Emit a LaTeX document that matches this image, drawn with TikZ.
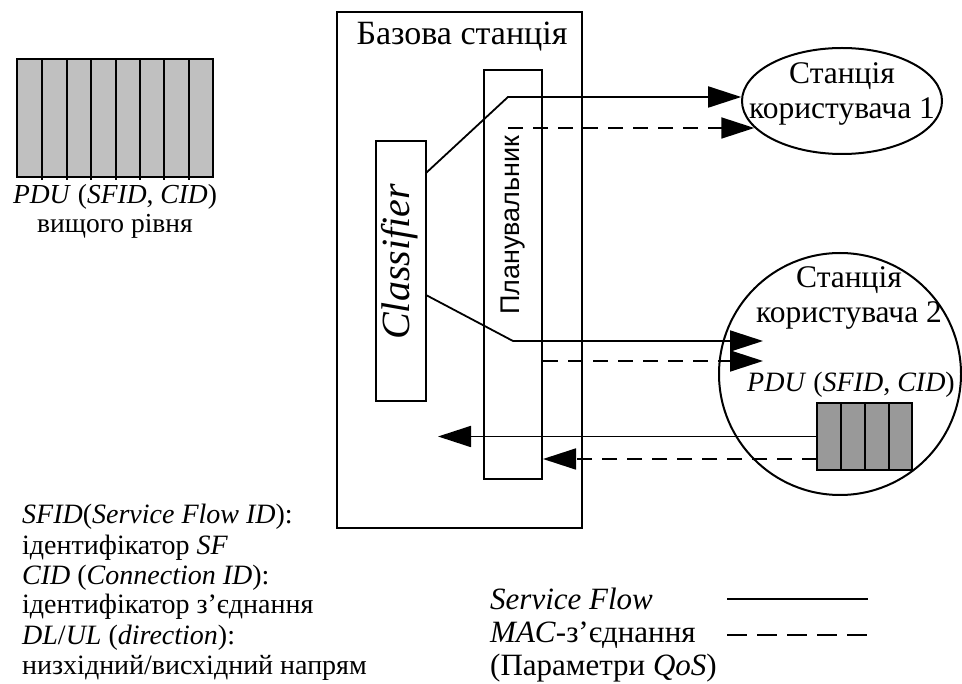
\documentclass[tikz,border=0pt]{standalone}
\usepackage{fontspec}
\setmainfont{Liberation Serif}
\setsansfont{Liberation Sans}
\usetikzlibrary{arrows.meta,shapes.geometric}
\definecolor{pdugray}{HTML}{C0C0C0}
\definecolor{queuegray}{HTML}{999999}
\tikzset{
    box/.style={draw, line width=2pt, inner sep=0pt},
    flow/.style={line width=1.8pt},
    macconn/.style={line width=1.8pt, dash pattern=on 15pt off 10pt},
    tip/.style={-{Triangle[length=33pt,width=21pt]}},
    txt/.style={font=\fontsize{28}{30}\selectfont, inner sep=0pt},
    big/.style={font=\fontsize{31.5}{35}\selectfont, inner sep=0pt},
}
\begin{document}
\begin{tikzpicture}[x=1pt,y=-1pt]
    \useasboundingbox (0,0) rectangle (962,684);

    \filldraw[fill=pdugray, line width=2pt] (17,59) rectangle (213,177);
    \draw[line width=2pt] (42,59) -- (42,180) (67,59) -- (67,180) (91,59) -- (91,180) (116,59) -- (116,180)
        (140,59) -- (140,180) (164,59) -- (164,180) (189,59) -- (189,180);
    \node[txt, font=\fontsize{27.5}{30}\selectfont] (pdu) at (115,197) {\textit{PDU} (\textit{SFID}, \textit{CID})};
    \node[txt, font=\fontsize{27.5}{30}\selectfont] (upper) at (115,226) {вищого рівня};

    \node[box, minimum width=245, minimum height=516] (bs) at (459.5,270) {};
    \node[big, font=\fontsize{34}{36}\selectfont] (bstitle) at (462,37) {Базова станція};
    \node[box, minimum width=50, minimum height=260] (cls) at (401,271) {};
    \node[rotate=90, inner sep=0pt, font=\fontsize{40}{44}\selectfont\itshape] (clstext) at (400,262) {Classifier};
    \node[box, minimum width=58, minimum height=409] (sch) at (513,274.5) {};
    \node[rotate=90, inner sep=0pt, font=\fontsize{27}{30}\selectfont\sffamily] (schtext) at (513,225) {Планувальник};

    \node[box, ellipse, minimum width=200, minimum height=106] (ue1) at (842,101) {};
    \node[big, align=center] (ue1text) at (842,94) {Станція\\користувача 1};
    \node[box, circle, minimum size=242] (ue2) at (840,374) {};
    \node[big, align=center] (ue2text) at (849,298) {Станція\\користувача 2};
    \node[txt] (pdu2) at (851,385) {\textit{PDU} (\textit{SFID}, \textit{CID})};

    \node[box, fill=queuegray, minimum width=95, minimum height=67] (q) at (864.5,436.5) {};
    \draw[line width=2pt] (841,403) -- (841,470) (865,403) -- (865,470) (889,403) -- (889,470);

    \coordinate (c1) at (426,173);
    \coordinate (b1) at (508,97);
    \coordinate (d1) at (508,128);
    \coordinate (c2) at (426,295);
    \coordinate (b2) at (513,341);
    \coordinate (e2) at (763,341);
    \coordinate (f2) at (763,361);
    \coordinate (ret) at (438,436.5);
    \coordinate (d3) at (817,459);

    \draw[flow, tip] (c1) -- (b1) -- (b1 -| ue1.178);
    \draw[macconn, tip] (d1) -- (d1 -| ue1.197);
    \draw[flow, tip] (c2) -- (b2) -- (e2);
    \draw[macconn, tip] (sch.east |- f2) -- (f2);
    \draw[flow, tip] (q.west) -- (ret);
    \draw[macconn, tip] (d3) -- (d3 -| sch.east);

    \node[txt, anchor=west] (l1) at (22,517) {\textit{SFID}(\textit{Service Flow ID}):};
    \node[txt, anchor=west] (l2) at (22,548) {ідентифікатор \textit{SF}};
    \node[txt, anchor=west] (l3) at (22,578) {\textit{CID} (\textit{Connection ID}):};
    \node[txt, anchor=west] (l4) at (22,607) {ідентифікатор з’єднання};
    \node[txt, anchor=west] (l5) at (22,638) {\textit{DL}/\textit{UL} (\textit{direction}):};
    \node[txt, anchor=west] (l6) at (22,668) {низхідний/висхідний напрям};

    \node[txt, anchor=west, font=\fontsize{31}{30}\selectfont] (sf) at (490,599) {\textit{Service Flow}};
    \node[txt, anchor=west, font=\fontsize{31}{30}\selectfont] (mac) at (490,635) {\textit{MAC}-з’єднання};
    \node[txt, anchor=west, font=\fontsize{31}{30}\selectfont] (qos) at (490,668) {(Параметри \textit{QoS})};
    \draw[flow] (727,599) -- (868,599);
    \draw[flow, dash pattern=on 20pt off 10pt] (727,635) -- (868,635);
\end{tikzpicture}
\end{document}
